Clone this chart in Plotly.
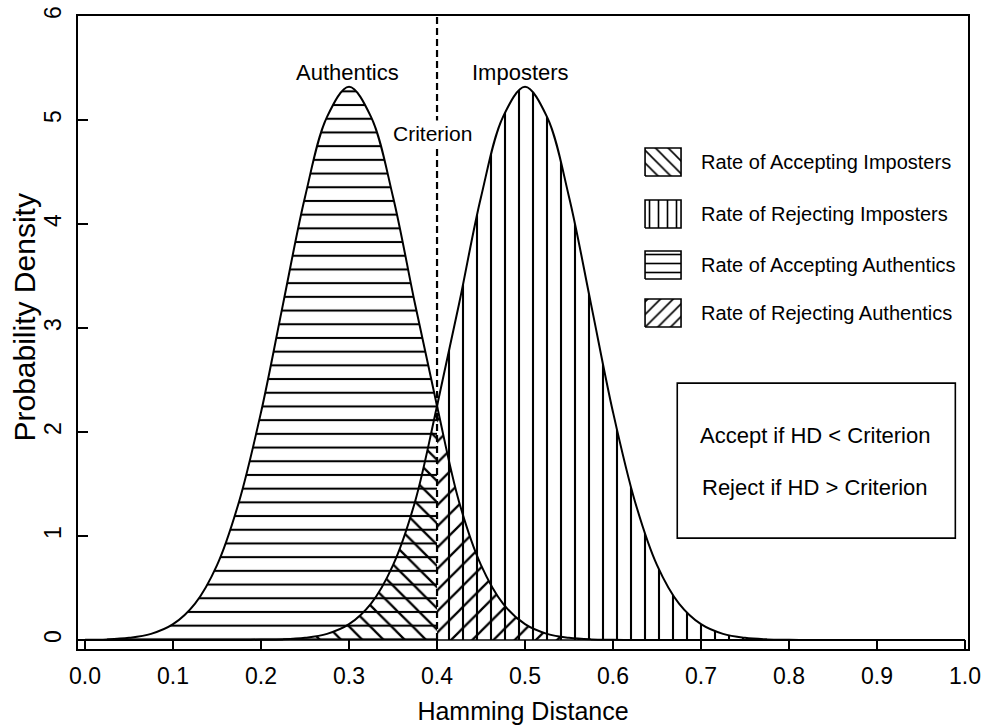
import plotly.graph_objects as go

# ---------------- data ----------------
hamming_distance = [0.000, 0.025, 0.050, 0.075, 0.100, 0.125, 0.150, 0.175, 0.200, 0.225,
                    0.250, 0.275, 0.300, 0.325, 0.350, 0.375, 0.400, 0.425, 0.450, 0.475,
                    0.500, 0.525, 0.550, 0.575, 0.600, 0.625, 0.650, 0.675, 0.700, 0.725,
                    0.750, 0.775, 0.800, 0.825, 0.850, 0.875, 0.900, 0.925, 0.950, 0.975, 1.000]

authentics_density = [0.002, 0.006, 0.021, 0.059, 0.152, 0.35, 0.72, 1.33, 2.19, 3.23,
                      4.26, 5.03, 5.32, 5.03, 4.26, 3.23, 2.25, 1.33, 0.72, 0.35,
                      0.152, 0.059, 0.021, 0.006, 0.002, 0.0, 0.0, 0.0, 0.0, 0.0,
                      0.0, 0.0, 0.0, 0.0, 0.0, 0.0, 0.0, 0.0, 0.0, 0.0, 0.0]

imposters_density = [0.0, 0.0, 0.0, 0.0, 0.0, 0.0, 0.0, 0.0, 0.002, 0.006,
                     0.021, 0.059, 0.152, 0.35, 0.72, 1.33, 2.25, 3.23, 4.26, 5.03,
                     5.32, 5.03, 4.26, 3.23, 2.19, 1.33, 0.72, 0.35, 0.152, 0.059,
                     0.021, 0.006, 0.002, 0.0, 0.0, 0.0, 0.0, 0.0, 0.0, 0.0, 0.0]

criterion = 0.4

x_tick_values = [0.0, 0.1, 0.2, 0.3, 0.4, 0.5, 0.6, 0.7, 0.8, 0.9, 1.0]
x_tick_labels = ["0.0", "0.1", "0.2", "0.3", "0.4", "0.5", "0.6", "0.7", "0.8", "0.9", "1.0"]
y_tick_values = [0, 1, 2, 3, 4, 5, 6]
y_tick_labels = ["0", "1", "2", "3", "4", "5", "6"]

legend_labels = ["Rate of Accepting Imposters", "Rate of Rejecting Imposters",
                 "Rate of Accepting Authentics", "Rate of Rejecting Authentics"]
legend_patterns = ["\\", "|", "-", "/"]

box_lines = ["Accept if HD < Criterion", "Reject if HD > Criterion"]

# ---------------- styling / layout constants ----------------
FONT = "Liberation Sans, Arial, Helvetica, sans-serif"
BLACK = "black"
CLEAR = "rgba(0,0,0,0)"

# legend swatch geometry (data coordinates)
LEG_X0, LEG_X1 = 0.6364, 0.6773
LEG_TEXT_X = 0.6977
LEG_ROWS_Y = [4.596, 4.096, 3.606, 3.144]
LEG_HALF_H = 0.135

# info box geometry
BOX_X0, BOX_X1, BOX_Y0, BOX_Y1 = 0.673, 0.989, 0.98, 2.47
BOX_TEXT_X = 0.83
BOX_TEXT_Y = [1.97, 1.47]


def pattern(shape, size, solidity=0.15):
    return dict(shape=shape, fgcolor=BLACK, fgopacity=1, bgcolor=CLEAR, size=size,
                solidity=solidity, fillmode="overlay")


def split(xs, ys, left):
    px, py = [], []
    for x, y in zip(xs, ys):
        if (left and x <= criterion + 1e-9) or ((not left) and x >= criterion - 1e-9):
            px.append(x)
            py.append(y)
    return px, py


fig = go.Figure()

regions = [
    (authentics_density, True, "-", 13.7),
    (authentics_density, False, "/", 15),
    (imposters_density, True, "\\", 15),
    (imposters_density, False, "|", 14),
]
for dens, left, shp, sz in regions:
    rx, ry = split(hamming_distance, dens, left)
    fig.add_trace(go.Scatter(
        x=rx, y=ry, mode="lines", fill="tozeroy",
        line=dict(width=0, shape="spline", color=CLEAR),
        fillcolor=CLEAR, fillpattern=pattern(shp, sz),
        hoverinfo="skip", showlegend=False))

for dens in (authentics_density, imposters_density):
    fig.add_trace(go.Scatter(
        x=hamming_distance, y=dens, mode="lines",
        line=dict(color=BLACK, width=2, shape="spline"),
        showlegend=False))

# legend swatches
for yc, shp in zip(LEG_ROWS_Y, legend_patterns):
    fig.add_trace(go.Scatter(
        x=[LEG_X0, LEG_X1, LEG_X1, LEG_X0, LEG_X0],
        y=[yc - LEG_HALF_H, yc - LEG_HALF_H, yc + LEG_HALF_H, yc + LEG_HALF_H, yc - LEG_HALF_H],
        mode="lines", fill="toself", fillcolor=CLEAR,
        fillpattern=pattern(shp, 9, 0.18),
        line=dict(color=BLACK, width=1.6), hoverinfo="skip", showlegend=False))

annotations = []
for yc, lab in zip(LEG_ROWS_Y, legend_labels):
    annotations.append(dict(x=LEG_TEXT_X, y=yc, text=lab, xanchor="left", yanchor="middle",
                            showarrow=False, font=dict(family=FONT, size=20, color=BLACK)))
for yt, lab in zip(BOX_TEXT_Y, box_lines):
    annotations.append(dict(x=BOX_TEXT_X, y=yt, text=lab, xanchor="center", yanchor="middle",
                            showarrow=False, font=dict(family=FONT, size=22, color=BLACK)))
annotations += [
    dict(x=0.298, y=5.46, text="Authentics", showarrow=False,
         font=dict(family=FONT, size=22, color=BLACK)),
    dict(x=0.495, y=5.46, text="Imposters", showarrow=False,
         font=dict(family=FONT, size=22, color=BLACK)),
    dict(x=0.395, y=4.875, text="Criterion", showarrow=False, bgcolor="white",
         font=dict(family=FONT, size=21, color=BLACK)),
    # y-axis title placed like the original
    dict(x=-0.0596, xref="paper", y=3.10, yref="y", text="Probability Density",
         textangle=-90, showarrow=False, xanchor="center", yanchor="middle",
         font=dict(family=FONT, size=30, color=BLACK)),
]

shapes = [
    dict(type="line", x0=criterion, x1=criterion, y0=0, y1=6, xref="x", yref="y",
         line=dict(color=BLACK, width=2.2, dash="7px,4px"), layer="above"),
    dict(type="line", x0=0, x1=1, y0=0, y1=0, xref="x", yref="y",
         line=dict(color=BLACK, width=1.5), layer="above"),
    dict(type="rect", x0=BOX_X0, x1=BOX_X1, y0=BOX_Y0, y1=BOX_Y1, xref="x", yref="y",
         line=dict(color=BLACK, width=1.6), fillcolor=CLEAR),
]

fig.update_layout(
    width=984, height=725,
    margin=dict(l=78, r=16, t=16, b=76, autoexpand=False),
    paper_bgcolor="white", plot_bgcolor="white",
    annotations=annotations, shapes=shapes,
    showlegend=False,
    font=dict(family=FONT, color=BLACK),
)

fig.update_xaxes(
    range=[-0.008, 1.0034], tickvals=x_tick_values, ticktext=x_tick_labels,
    showgrid=False, zeroline=False, showline=True, mirror=True, automargin=False,
    linecolor=BLACK, linewidth=2, ticks="inside", ticklen=9, tickwidth=1.5, tickcolor=BLACK,
    tickfont=dict(family=FONT, size=23, color=BLACK), ticklabelstandoff=5,
    ticklabeloverflow="allow",
    title=dict(text="Hamming Distance", font=dict(family=FONT, size=25, color=BLACK), standoff=18),
)
fig.update_yaxes(
    range=[-0.0865, 6.0], tickvals=y_tick_values, ticktext=y_tick_labels, tickangle=-90,
    showgrid=False, zeroline=False, showline=True, mirror=True, automargin=False,
    linecolor=BLACK, linewidth=2, ticks="inside", ticklen=10, tickwidth=1.5, tickcolor=BLACK,
    tickfont=dict(family=FONT, size=23, color=BLACK), ticklabelstandoff=6,
    ticklabeloverflow="allow",
)

fig.write_html("out.html", config={"displayModeBar": False},
               post_script="document.body.style.margin='0';document.body.style.padding='0';")
